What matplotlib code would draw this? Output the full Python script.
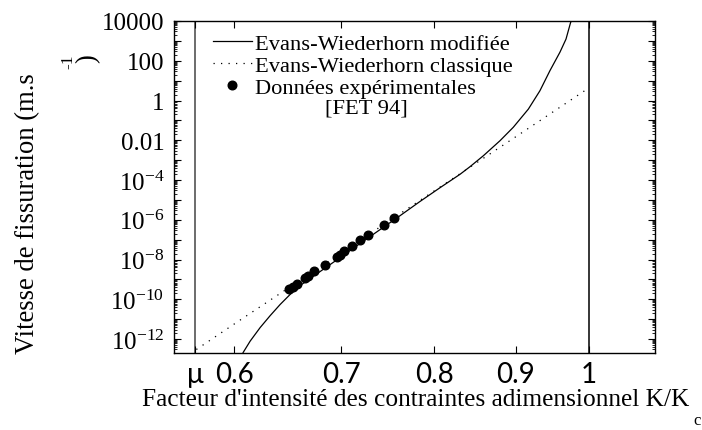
import math
import matplotlib
matplotlib.use("Agg")
import matplotlib.pyplot as plt
from matplotlib.ticker import LogLocator, FixedLocator, FixedFormatter, FuncFormatter, NullLocator, NullFormatter

SERIF = "Liberation Serif"
SANS = "Lato"
plt.rcParams["font.family"] = [SERIF, "DejaVu Serif"]
plt.rcParams["mathtext.fontset"] = "custom"
plt.rcParams["mathtext.rm"] = SERIF
plt.rcParams["mathtext.it"] = SERIF + ":italic"

# threshold stress-intensity ratio (mu) and the x tick values
mu = 0.567
x_ticks = [mu, 0.6, 0.7, 0.8, 0.9, 1.0]
x_tick_labels = ["\u03bc", "0.6", "0.7", "0.8", "0.9", "1"]

# classic Evans-Wiederhorn law
k_classic = [0.568, 0.6, 0.7, 0.8, 0.9, 1.0]
v_classic = [3.0e-13, 5.8e-12, 2.2e-8, 2.8e-5, 1.5e-2, 4.3]

# modified Evans-Wiederhorn law
k_modified = [0.6076, 0.6138, 0.6227, 0.6317, 0.6409, 0.6501, 0.6596, 0.6692,
              0.6789, 0.6988, 0.7191, 0.7401, 0.7617, 0.7839, 0.8069, 0.8306,
              0.8426, 0.8589, 0.8798, 0.8968, 0.9165, 0.9319, 0.9455, 0.9592,
              0.9676, 0.9741, 0.9775]
v_modified = [2.1e-13, 7.9e-13, 3.8e-12, 1.5e-11, 5.5e-11, 1.74e-10, 4.9e-10,
              1.12e-9, 2.5e-9, 1.26e-8, 6.4e-8, 3.2e-7, 1.6e-6, 8.3e-6, 4.1e-5,
              1.95e-4, 4.7e-4, 1.66e-3, 9.5e-3, 4.5e-2, 0.37, 3.1, 32.0, 270.0,
              1230.0, 8600.0, 1.26e4]

# experimental data [FET 94]
k_exp = [0.6495, 0.6527, 0.6570, 0.6643, 0.6674, 0.6730, 0.6841, 0.6954,
         0.6988, 0.7031, 0.7112, 0.7194, 0.7278, 0.7447, 0.7549]
v_exp = [3.5e-10, 4.2e-10, 6.0e-10, 1.17e-9, 1.5e-9, 2.6e-9, 5.5e-9, 1.38e-8,
         1.74e-8, 2.75e-8, 4.6e-8, 9.3e-8, 1.66e-7, 5.5e-7, 1.17e-6]

y_label_text = {4: "10000", 2: "100", 0: "1", -2: "0.01"}

fig = plt.figure(figsize=(7.02, 4.31), dpi=100)
ax = fig.add_axes([174 / 702, 1 - 354 / 431, 481 / 702, 332 / 431])

ax.set_xscale("log")
ax.set_yscale("log")
ax.set_xlim(0.55, 1.10)
ax.set_ylim(10 ** -12.70, 1e4)

ax.axvline(mu, color="#444444", lw=1.1, zorder=1)
ax.axvline(1.0, color="black", lw=1.1, zorder=1)

ax.plot(k_modified, v_modified, color="black", lw=0.9, ls="-",
        label="Evans-Wiederhorn modifi\u00e9e", zorder=3)
ax.plot(k_classic, v_classic, color="black", lw=0.9, ls=(0, (1, 5)),
        label="Evans-Wiederhorn classique", zorder=2)
ax.plot(k_exp, v_exp, ls="none", marker="o", ms=6.2, color="black",
        label="Donn\u00e9es exp\u00e9rimentales", zorder=4)

# x axis: fixed ticks in a sans font
ax.xaxis.set_major_locator(FixedLocator(x_ticks))
ax.xaxis.set_major_formatter(FixedFormatter(x_tick_labels))
ax.xaxis.set_minor_locator(NullLocator())
ax.xaxis.set_minor_formatter(NullFormatter())


def y_fmt(val, pos):
    e = int(round(math.log10(val)))
    if e % 2:
        return ""
    if e in y_label_text:
        return y_label_text[e]
    return r"$\mathregular{10^{%d}}$" % e


ax.yaxis.set_major_locator(LogLocator(base=10, subs=(1.0,), numticks=40))
ax.yaxis.set_minor_locator(LogLocator(base=10, subs=tuple(range(2, 10)), numticks=40))
ax.yaxis.set_major_formatter(FuncFormatter(y_fmt))
ax.yaxis.set_minor_formatter(NullFormatter())

ax.tick_params(axis="both", which="both", direction="in", top=True, right=True,
               colors="black")
ax.tick_params(axis="both", which="major", length=5, width=0.8)
ax.tick_params(axis="both", which="minor", length=2.5, width=0.6)
ax.tick_params(axis="x", which="major", pad=6, labelsize=20)
ax.tick_params(axis="y", which="major", pad=7, labelsize=18)
for lab in ax.get_xticklabels():
    lab.set_fontfamily(SANS)

for s in ax.spines.values():
    s.set_linewidth(1.0)
    s.set_color("black")

leg = ax.legend(loc="upper left", bbox_to_anchor=(0.081, 0.962), frameon=False,
                fontsize=16.2, handlelength=1.73, handletextpad=0.13,
                labelspacing=0.05, borderpad=0, borderaxespad=0)
ax.text(0.399, 0.738, "[FET 94]", transform=ax.transAxes, ha="center",
        va="center", fontsize=16.2)

# axis titles
fig.text(28 / 702, 1 - 214 / 431, "Vitesse de fissuration (m.s",
         rotation=90, ha="center", va="center", fontsize=19.2)
fig.text(68 / 702, 1 - 62 / 431, "-1", rotation=90, ha="center", va="center",
         fontsize=12.5)
fig.text(88 / 702, 1 - 59 / 431, ")", rotation=90, ha="center", va="center",
         fontsize=19.2)
fig.text(416 / 702, 1 - 400 / 431,
         "Facteur d'intensit\u00e9 des contraintes adimensionnel K/K",
         ha="center", va="center", fontsize=18.3)
fig.text(697 / 702, 1 - 421 / 431, "c", ha="center", va="center", fontsize=12)

fig.savefig("out.png", dpi=100)
